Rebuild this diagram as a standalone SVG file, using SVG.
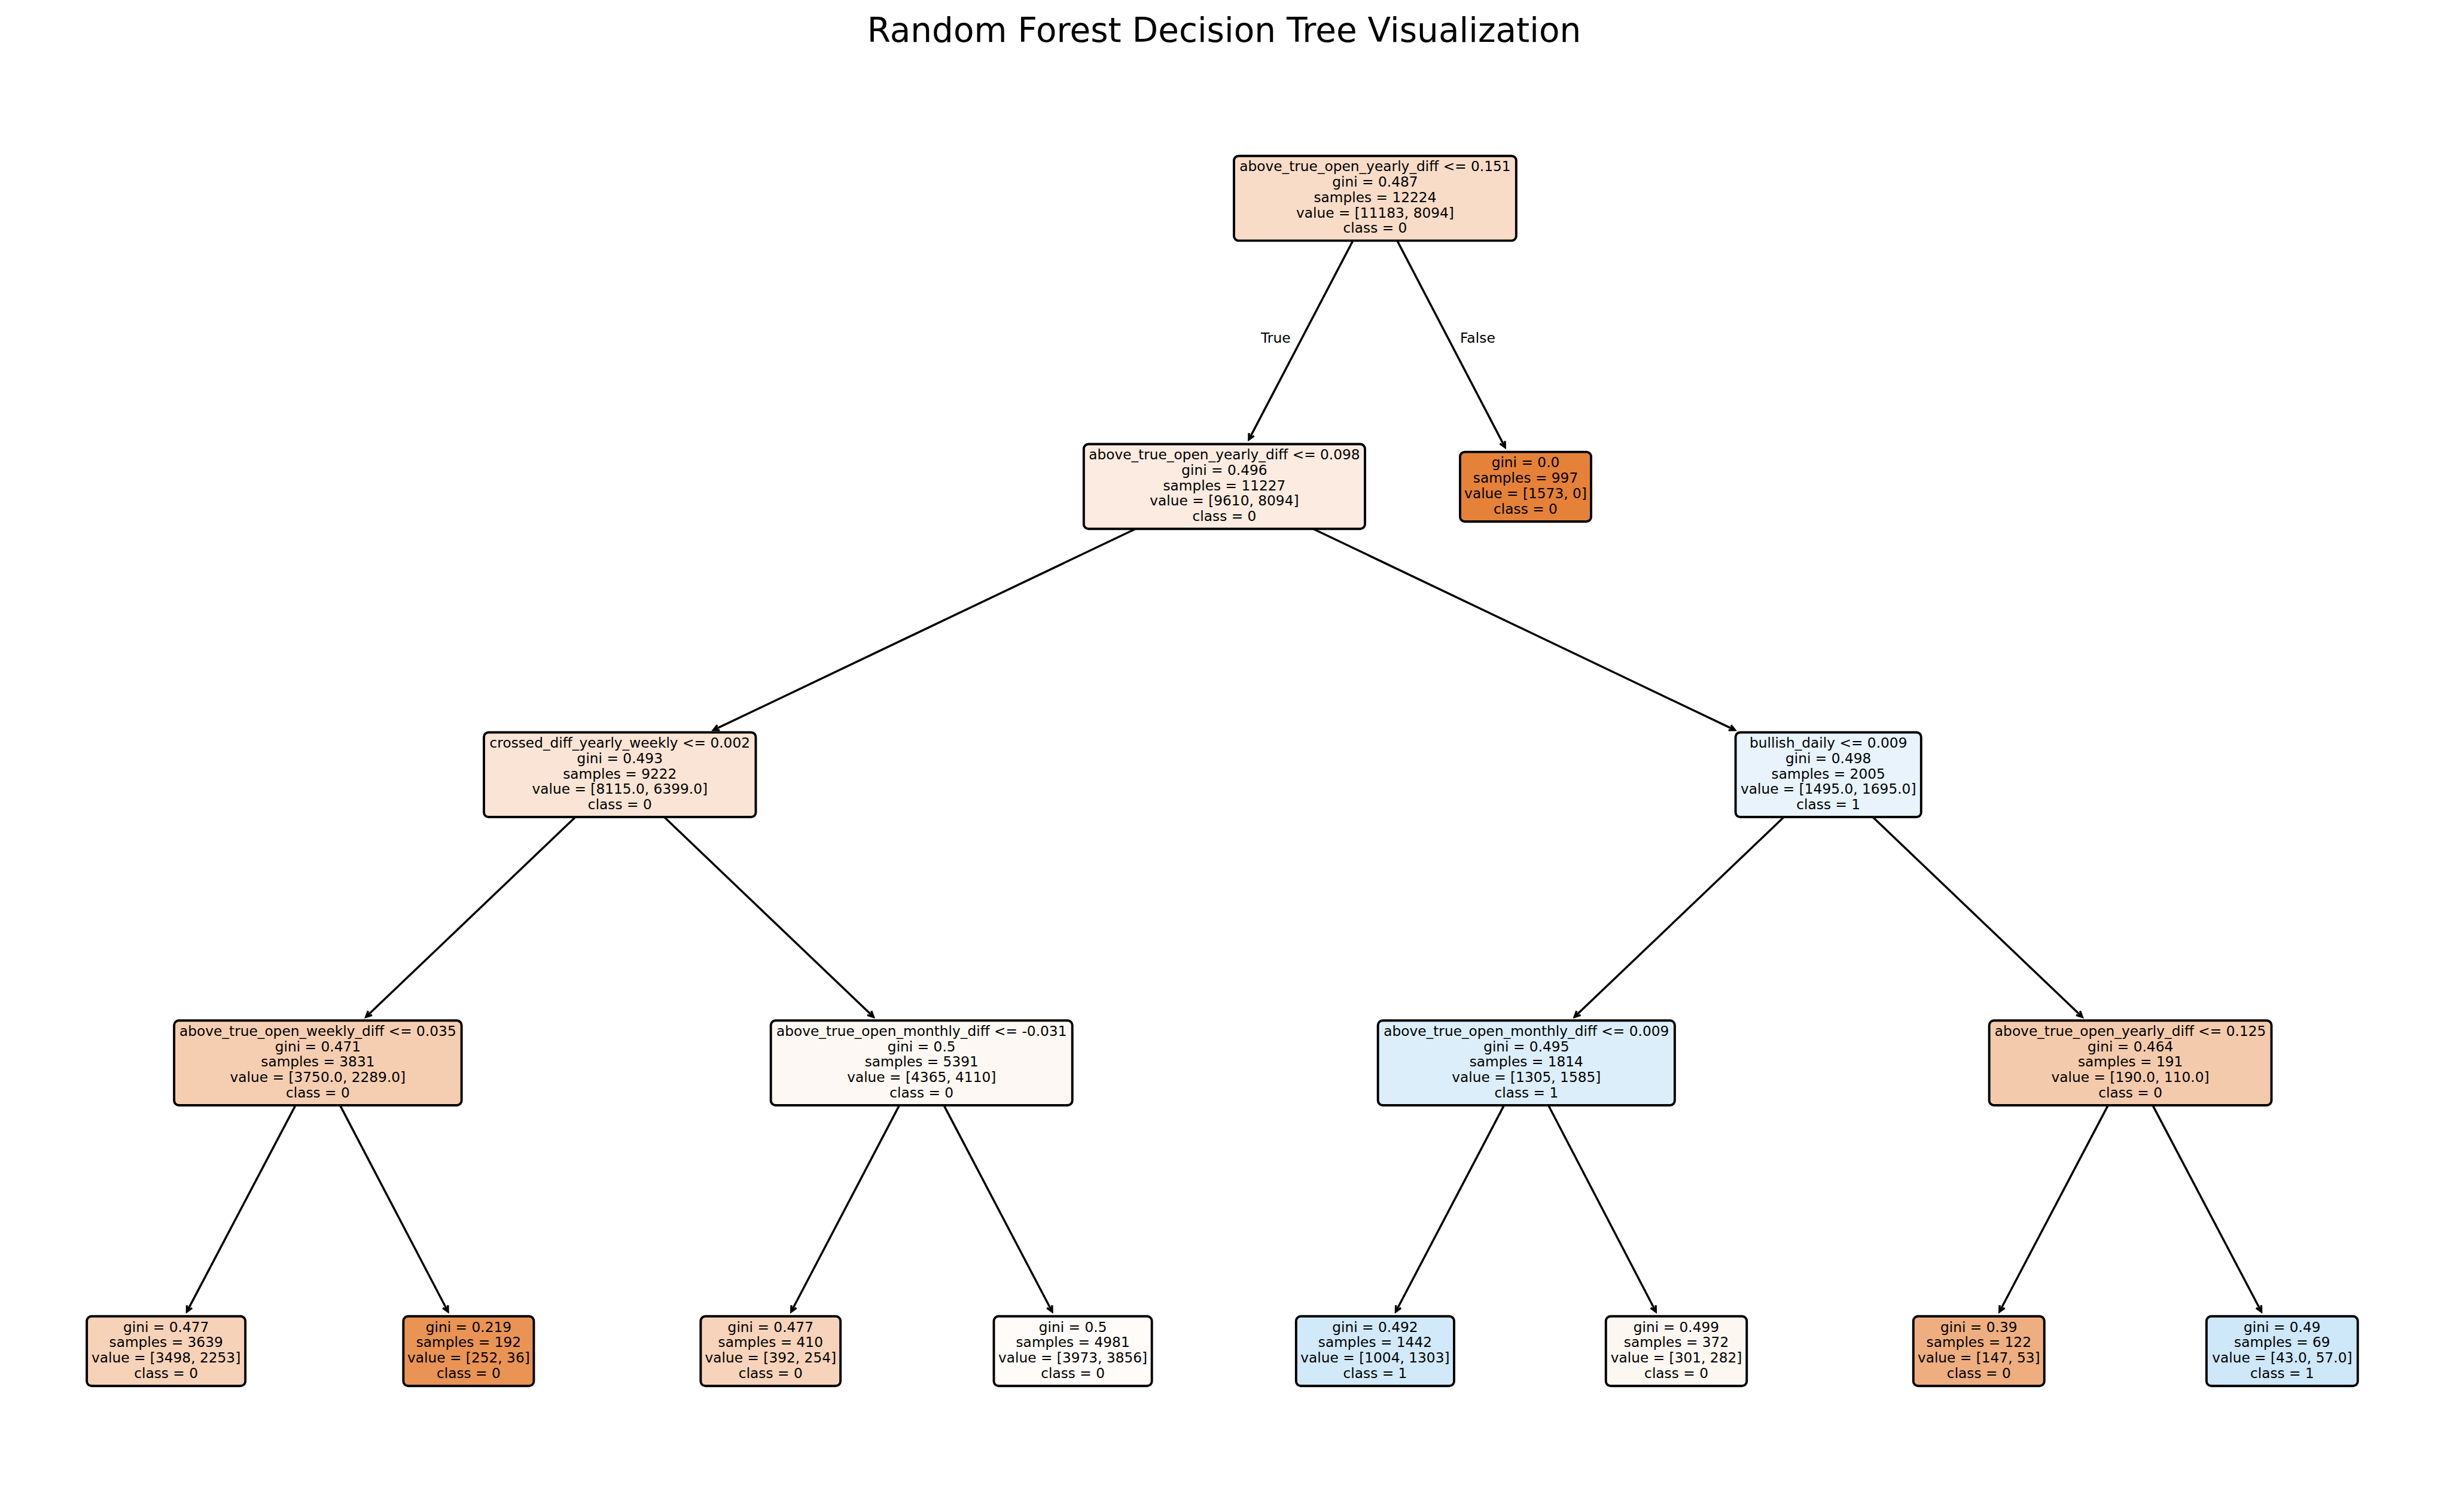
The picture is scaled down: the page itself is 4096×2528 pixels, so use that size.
<svg xmlns="http://www.w3.org/2000/svg" width="4096" height="2528" viewBox="0 0 4096 2528">
<style>
.box{stroke:#000;stroke-width:4.5}
.t{font-family:"DejaVu Sans","Liberation Sans",sans-serif;font-size:26.8px;text-anchor:middle;fill:#000}
.lbl{font-family:"DejaVu Sans","Liberation Sans",sans-serif;font-size:27px;fill:#000}
.title{font-family:"DejaVu Sans","Liberation Sans",sans-serif;font-size:65px;text-anchor:middle;fill:#000}
.edge{stroke:#000;stroke-width:4;fill:none;marker-end:url(#ah)}
</style>
<defs>
<marker id="ah" markerUnits="userSpaceOnUse" viewBox="-16 -10 20 20" markerWidth="20" markerHeight="20" refX="0" refY="0" orient="auto" overflow="visible">
<path d="M-11,-5.5 L0,0 L-11,5.5" fill="none" stroke="#000" stroke-width="4"/>
</marker>
</defs>
<rect x="0" y="0" width="4096" height="2528" fill="#fff"/>
<g transform="scale(0.869)">
<text class="title" x="2355" y="81">Random Forest Decision Tree Visualization</text>
<g id="connectors">
<line class="edge" x1="2602.9" y1="463" x2="2402.7" y2="845.6"/>
<line class="edge" x1="2688.0" y1="463" x2="2895.5" y2="860.6"/>
<line class="edge" x1="2184.7" y1="1017.5" x2="1372.5" y2="1404.7"/>
<line class="edge" x1="2526.3" y1="1017.5" x2="3337.7" y2="1404.7"/>
<line class="edge" x1="1107.1" y1="1572" x2="704.1" y2="1956.6"/>
<line class="edge" x1="1277.8" y1="1572" x2="1680.5" y2="1956.6"/>
<line class="edge" x1="3432.1" y1="1572" x2="3029.1" y2="1956.6"/>
<line class="edge" x1="3602.9" y1="1572" x2="4005.9" y2="1956.6"/>
<line class="edge" x1="568.6" y1="2126.5" x2="359.5" y2="2523.7"/>
<line class="edge" x1="654.1" y1="2126.5" x2="861.9" y2="2523.6"/>
<line class="edge" x1="1730.3" y1="2126.5" x2="1522.2" y2="2523.6"/>
<line class="edge" x1="1815.8" y1="2126.5" x2="2024.2" y2="2523.6"/>
<line class="edge" x1="2893.7" y1="2126.5" x2="2685.3" y2="2523.6"/>
<line class="edge" x1="2978.9" y1="2126.5" x2="3185.6" y2="2523.6"/>
<line class="edge" x1="4055.7" y1="2126.5" x2="3846.8" y2="2523.6"/>
<line class="edge" x1="4141.4" y1="2126.5" x2="4350.5" y2="2523.6"/>
<text class="lbl" x="2483" y="659" text-anchor="end">True</text>
<text class="lbl" x="2809" y="659">False</text>
</g>
<g id="node0">
<rect class="box" x="2374" y="300" width="543" height="163" rx="9" fill="#F8DCC8"/>
<text class="t"><tspan x="2645.5" y="329.3">above_true_open_yearly_diff &lt;= 0.151</tspan><tspan x="2645.5" y="359.0">gini = 0.487</tspan><tspan x="2645.5" y="388.7">samples = 12224</tspan><tspan x="2645.5" y="418.4">value = [11183, 8094]</tspan><tspan x="2645.5" y="448.1">class = 0</tspan></text>
</g>
<g id="node1">
<rect class="box" x="2085" y="854.5" width="541" height="163" rx="9" fill="#FBEBE0"/>
<text class="t"><tspan x="2355.5" y="883.8">above_true_open_yearly_diff &lt;= 0.098</tspan><tspan x="2355.5" y="913.5">gini = 0.496</tspan><tspan x="2355.5" y="943.2">samples = 11227</tspan><tspan x="2355.5" y="972.9">value = [9610, 8094]</tspan><tspan x="2355.5" y="1002.6">class = 0</tspan></text>
</g>
<g id="node2">
<rect class="box" x="2809" y="869.5" width="252" height="134" rx="9" fill="#E58139"/>
<text class="t"><tspan x="2935" y="899.1">gini = 0.0</tspan><tspan x="2935" y="928.8">samples = 997</tspan><tspan x="2935" y="958.5">value = [1573, 0]</tspan><tspan x="2935" y="988.2">class = 0</tspan></text>
</g>
<g id="node3">
<rect class="box" x="931" y="1409" width="523" height="163" rx="9" fill="#F9E4D5"/>
<text class="t"><tspan x="1192.5" y="1438.3">crossed_diff_yearly_weekly &lt;= 0.002</tspan><tspan x="1192.5" y="1468.0">gini = 0.493</tspan><tspan x="1192.5" y="1497.7">samples = 9222</tspan><tspan x="1192.5" y="1527.4">value = [8115.0, 6399.0]</tspan><tspan x="1192.5" y="1557.1">class = 0</tspan></text>
</g>
<g id="node4">
<rect class="box" x="3339" y="1409" width="357" height="163" rx="9" fill="#E8F3FC"/>
<text class="t"><tspan x="3517.5" y="1438.3">bullish_daily &lt;= 0.009</tspan><tspan x="3517.5" y="1468.0">gini = 0.498</tspan><tspan x="3517.5" y="1497.7">samples = 2005</tspan><tspan x="3517.5" y="1527.4">value = [1495.0, 1695.0]</tspan><tspan x="3517.5" y="1557.1">class = 1</tspan></text>
</g>
<g id="node5">
<rect class="box" x="335" y="1963.5" width="553" height="163" rx="9" fill="#F5CEB2"/>
<text class="t"><tspan x="611.5" y="1992.8">above_true_open_weekly_diff &lt;= 0.035</tspan><tspan x="611.5" y="2022.5">gini = 0.471</tspan><tspan x="611.5" y="2052.2">samples = 3831</tspan><tspan x="611.5" y="2081.9">value = [3750.0, 2289.0]</tspan><tspan x="611.5" y="2111.6">class = 0</tspan></text>
</g>
<g id="node6">
<rect class="box" x="1483" y="1963.5" width="580" height="163" rx="9" fill="#FDF8F3"/>
<text class="t"><tspan x="1773" y="1992.8">above_true_open_monthly_diff &lt;= -0.031</tspan><tspan x="1773" y="2022.5">gini = 0.5</tspan><tspan x="1773" y="2052.2">samples = 5391</tspan><tspan x="1773" y="2081.9">value = [4365, 4110]</tspan><tspan x="1773" y="2111.6">class = 0</tspan></text>
</g>
<g id="node7">
<rect class="box" x="2651" y="1963.5" width="571" height="163" rx="9" fill="#DCEEFA"/>
<text class="t"><tspan x="2936.5" y="1992.8">above_true_open_monthly_diff &lt;= 0.009</tspan><tspan x="2936.5" y="2022.5">gini = 0.495</tspan><tspan x="2936.5" y="2052.2">samples = 1814</tspan><tspan x="2936.5" y="2081.9">value = [1305, 1585]</tspan><tspan x="2936.5" y="2111.6">class = 1</tspan></text>
</g>
<g id="node8">
<rect class="box" x="3827" y="1963.5" width="543" height="163" rx="9" fill="#F4CAAC"/>
<text class="t"><tspan x="4098.5" y="1992.8">above_true_open_yearly_diff &lt;= 0.125</tspan><tspan x="4098.5" y="2022.5">gini = 0.464</tspan><tspan x="4098.5" y="2052.2">samples = 191</tspan><tspan x="4098.5" y="2081.9">value = [190.0, 110.0]</tspan><tspan x="4098.5" y="2111.6">class = 0</tspan></text>
</g>
<g id="leaf1">
<rect class="box" x="167" y="2532.5" width="305" height="134" rx="9" fill="#F6D2B9"/>
<text class="t"><tspan x="319.5" y="2562.2">gini = 0.477</tspan><tspan x="319.5" y="2591.9">samples = 3639</tspan><tspan x="319.5" y="2621.6">value = [3498, 2253]</tspan><tspan x="319.5" y="2651.3">class = 0</tspan></text>
</g>
<g id="leaf2">
<rect class="box" x="776" y="2532.5" width="251" height="134" rx="9" fill="#E99355"/>
<text class="t"><tspan x="901.5" y="2562.2">gini = 0.219</tspan><tspan x="901.5" y="2591.9">samples = 192</tspan><tspan x="901.5" y="2621.6">value = [252, 36]</tspan><tspan x="901.5" y="2651.3">class = 0</tspan></text>
</g>
<g id="leaf3">
<rect class="box" x="1348" y="2532.5" width="269" height="134" rx="9" fill="#F6D3BA"/>
<text class="t"><tspan x="1482.5" y="2562.2">gini = 0.477</tspan><tspan x="1482.5" y="2591.9">samples = 410</tspan><tspan x="1482.5" y="2621.6">value = [392, 254]</tspan><tspan x="1482.5" y="2651.3">class = 0</tspan></text>
</g>
<g id="leaf4">
<rect class="box" x="1912" y="2532.5" width="304" height="134" rx="9" fill="#FEFBF9"/>
<text class="t"><tspan x="2064" y="2562.2">gini = 0.5</tspan><tspan x="2064" y="2591.9">samples = 4981</tspan><tspan x="2064" y="2621.6">value = [3973, 3856]</tspan><tspan x="2064" y="2651.3">class = 0</tspan></text>
</g>
<g id="leaf5">
<rect class="box" x="2493.5" y="2532.5" width="304" height="134" rx="9" fill="#D2E9F9"/>
<text class="t"><tspan x="2645.5" y="2562.2">gini = 0.492</tspan><tspan x="2645.5" y="2591.9">samples = 1442</tspan><tspan x="2645.5" y="2621.6">value = [1004, 1303]</tspan><tspan x="2645.5" y="2651.3">class = 1</tspan></text>
</g>
<g id="leaf6">
<rect class="box" x="3089.5" y="2532.5" width="271" height="134" rx="9" fill="#FDF7F2"/>
<text class="t"><tspan x="3225" y="2562.2">gini = 0.499</tspan><tspan x="3225" y="2591.9">samples = 372</tspan><tspan x="3225" y="2621.6">value = [301, 282]</tspan><tspan x="3225" y="2651.3">class = 0</tspan></text>
</g>
<g id="leaf7">
<rect class="box" x="3681" y="2532.5" width="252" height="134" rx="9" fill="#EEAE80"/>
<text class="t"><tspan x="3807" y="2562.2">gini = 0.39</tspan><tspan x="3807" y="2591.9">samples = 122</tspan><tspan x="3807" y="2621.6">value = [147, 53]</tspan><tspan x="3807" y="2651.3">class = 0</tspan></text>
</g>
<g id="leaf8">
<rect class="box" x="4245" y="2532.5" width="291" height="134" rx="9" fill="#CEE7F9"/>
<text class="t"><tspan x="4390.5" y="2562.2">gini = 0.49</tspan><tspan x="4390.5" y="2591.9">samples = 69</tspan><tspan x="4390.5" y="2621.6">value = [43.0, 57.0]</tspan><tspan x="4390.5" y="2651.3">class = 1</tspan></text>
</g>
</g>
</svg>
